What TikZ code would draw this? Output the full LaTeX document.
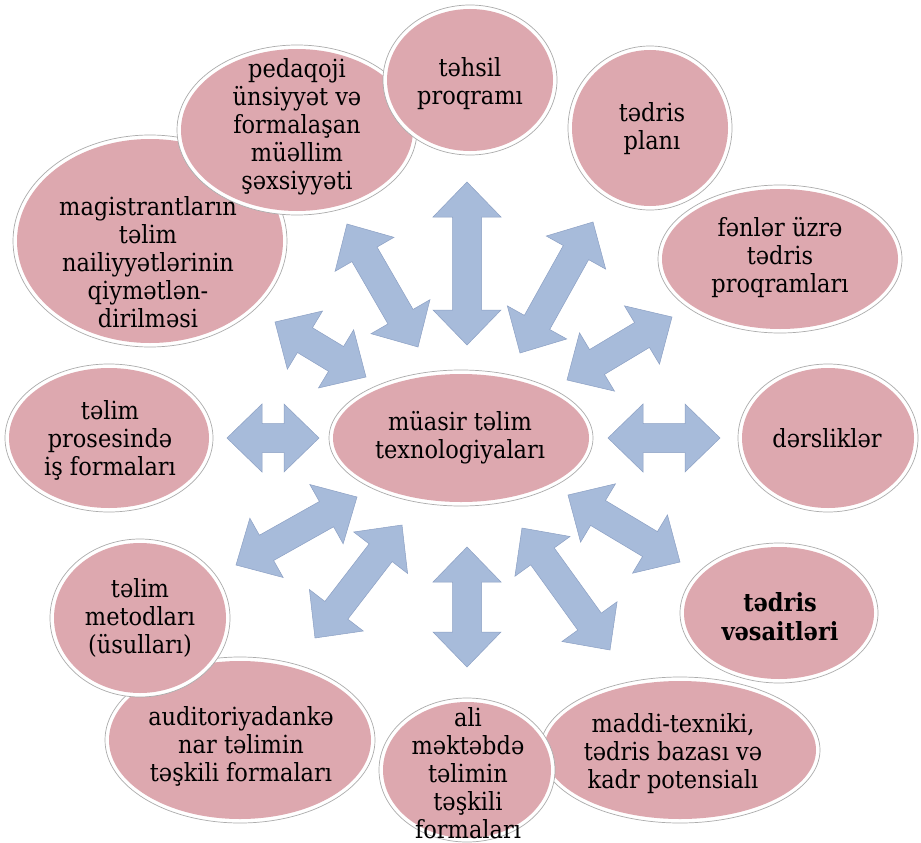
\documentclass[tikz,border=0pt]{standalone}
\usepackage{fontspec}
\setmainfont{DejaVu Serif Condensed}
\usetikzlibrary{calc,shapes.geometric}
\definecolor{bubpink}{RGB}{221,168,175}
\definecolor{arrblue}{RGB}{167,187,218}
\definecolor{arredge}{RGB}{140,160,196}
\tikzset{
  bub/.style={ellipse, draw=gray!65, line width=0.7pt, fill=white, inner sep=0pt},
  txt/.style={align=center, font=\fontsize{25}{28}\selectfont, inner sep=0pt},
  arr/.style={fill=arrblue, draw=arredge, line width=0.5pt, line join=miter}
}
\newcommand\bubble[5]{%
  \node[bub, minimum width={#4*2pt}, minimum height={#5*2pt}] (#1) at (#2,#3) {};
  \fill[bubpink] (#1.center) ellipse ({(#4-4)*1pt} and {(#5-4)*1pt});
}
\newcommand\dblarrow[2]{%
  \draw[arr] (#1)
    -- ($(#1)!35pt!(#2)!34pt!90:(#2)$)
    -- ($(#1)!35pt!(#2)!14.5pt!90:(#2)$)
    -- ($(#2)!35pt!(#1)!14.5pt!-90:(#1)$)
    -- ($(#2)!35pt!(#1)!34pt!-90:(#1)$)
    -- (#2)
    -- ($(#2)!35pt!(#1)!34pt!90:(#1)$)
    -- ($(#2)!35pt!(#1)!14.5pt!90:(#1)$)
    -- ($(#1)!35pt!(#2)!14.5pt!-90:(#2)$)
    -- ($(#1)!35pt!(#2)!34pt!-90:(#2)$)
    -- cycle;}
\begin{document}
\begin{tikzpicture}[x=1pt,y=-1pt]
\path[use as bounding box, fill=white] (0,0) rectangle (921,843);
% ellipses (in stacking order)
\bubble{magistr}{150}{241}{137}{106}
\bubble{pedaqoji}{297}{130}{120}{85}
\bubble{tehsil}{470}{80}{87}{75}
\bubble{plani}{650}{128}{82}{82}
\bubble{fenler}{780}{259}{122}{74}
\bubble{dersl}{828}{438}{90}{74}
\bubble{vesait}{779}{613}{99}{70}
\bubble{maddi}{680}{750}{140}{73}
\bubble{ali}{467}{770}{88}{72}
\bubble{auditor}{240}{740}{135}{83}
\bubble{metod}{140}{618}{90}{79}
\bubble{isform}{109}{438}{104}{74}
\bubble{core}{461}{438}{132}{68}
% arrow end points
\coordinate (a1) at (467,182); \coordinate (a2) at (467,345);
\coordinate (b1) at (347,224); \coordinate (b2) at (418,347);
\coordinate (c1) at (593,222); \coordinate (c2) at (520,353);
\coordinate (d1) at (275,322); \coordinate (d2) at (366,377);
\coordinate (e1) at (672,317); \coordinate (e2) at (567,380);
\coordinate (f1) at (227,438); \coordinate (f2) at (319,438);
\coordinate (g1) at (608,438); \coordinate (g2) at (720,438);
\coordinate (h1) at (236,565); \coordinate (h2) at (357,497);
\coordinate (i1) at (315,638); \coordinate (i2) at (402,525);
\coordinate (j1) at (467,547); \coordinate (j2) at (467,667);
\coordinate (k1) at (522,528); \coordinate (k2) at (610,650);
\coordinate (l1) at (568,495); \coordinate (l2) at (680,562);
\dblarrow{a1}{a2}
\dblarrow{b1}{b2}
\dblarrow{c1}{c2}
\dblarrow{d1}{d2}
\dblarrow{e1}{e2}
\dblarrow{f1}{f2}
\dblarrow{g1}{g2}
\dblarrow{h1}{h2}
\dblarrow{i1}{i2}
\dblarrow{j1}{j2}
\dblarrow{k1}{k2}
\dblarrow{l1}{l2}
% texts
\node[txt] (magistr-t) at (148,262) {magistrantların\\təlim\\nailiyyətlərinin\\qiymətlən-\\dirilməsi};
\node[txt] (pedaqoji-t) at (297,127) {pedaqoji\\ünsiyyət və\\formalaşan\\müəllim\\şəxsiyyəti};
\node[txt] (tehsil-t) at (470,84) {təhsil\\proqramı};
\node[txt] (plani-t) at (652,129) {tədris\\planı};
\node[txt] (fenler-t) at (780,258) {fənlər üzrə\\tədris\\proqramları};
\node[txt] (dersl-t) at (827,438) {dərsliklər};
\node[txt, font=\fontsize{25}{29}\selectfont\bfseries] (vesait-t) at (780,617) {tədris\\vəsaitləri};
\node[txt] (maddi-t) at (673,754) {maddi-texniki,\\tədris bazası və\\kadr potensialı};
\node[txt] (ali-t) at (468,773) {ali\\məktəbdə\\təlimin\\təşkili\\formaları};
\node[txt] (auditor-t) at (241,746) {auditoriyadankə\\nar təlimin\\təşkili formaları};
\node[txt] (metod-t) at (140,618) {təlim\\metodları\\(üsulları)};
\node[txt] (isform-t) at (110,440) {təlim\\prosesində\\iş formaları};
\node[txt] (core-t) at (460,438) {müasir təlim\\texnologiyaları};
\end{tikzpicture}
\end{document}
